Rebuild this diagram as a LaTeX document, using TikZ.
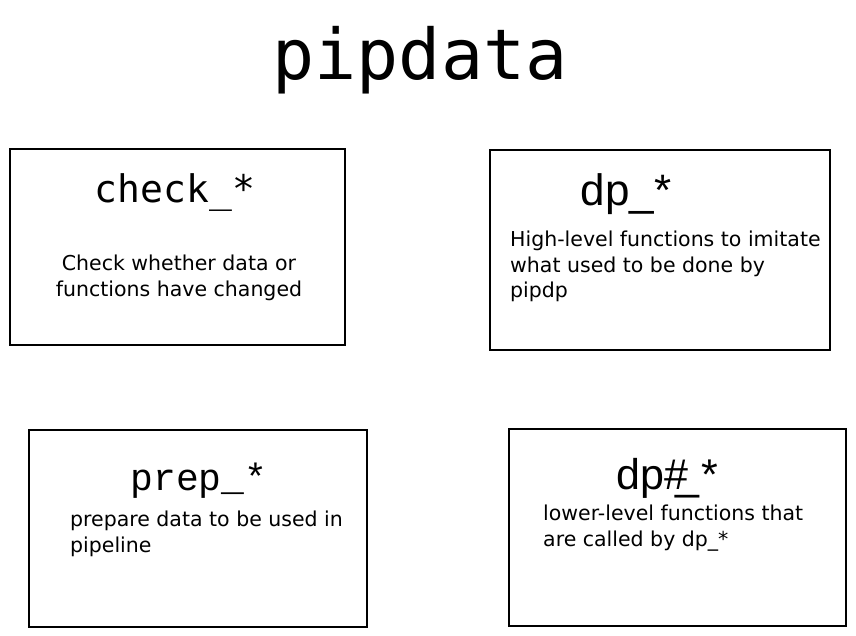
\documentclass[tikz,border=0pt]{standalone}
\usepackage{fontspec}
\setmainfont{Liberation Sans}
\newfontfamily\monoA{DejaVu Sans Mono}
\newfontfamily\monoB{Liberation Mono}
\newfontfamily\sansT{Liberation Sans}
\newfontfamily\hand{DejaVu Sans}
\begin{document}
\begin{tikzpicture}[x=1pt,y=-1pt,
  box/.style={draw=black,line width=1.1pt,inner sep=0pt},
  desc/.style={font=\hand\fontsize{20.5}{25.5}\selectfont,inner sep=0pt,align=left}]
\useasboundingbox (0,0) rectangle (856,636);
\node (title) at (420,60) {\monoA\fontsize{70}{70}\selectfont pipdata};
% boxes
\node[box,minimum width=335pt,minimum height=196pt] (b1) at (177.5,247) {};
\node[box,minimum width=340pt,minimum height=200pt] (b2) at (660,250) {};
\node[box,minimum width=338pt,minimum height=197pt] (b3) at (198,528.5) {};
\node[box,minimum width=337pt,minimum height=197pt] (b4) at (677.5,527.5) {};
% titles
\node (t1) at (175,193) {\monoA\fontsize{38}{38}\selectfont check\_*};
\node (t2) at (626,194) {\sansT\fontsize{44}{44}\selectfont dp\_*};
\node (t3) at (199,481) {\monoB\fontsize{38}{38}\selectfont prep\_*};
\node (t4) at (667,478) {\sansT\fontsize{43}{43}\selectfont dp\#\kern-0.3em\_\kern0.05em*};
% descriptions
\node[desc,align=center] (d1) at (179,278) {Check whether data or\\functions have changed};
\node[desc,anchor=north west] (d2) at (510,231) {High-level functions to imitate\\what used to be done by\\pipdp};
\node[desc,anchor=north west] (d3) at (70,511) {prepare data to be used in\\pipeline};
\node[desc,anchor=north west] (d4) at (543,505) {lower-level functions that\\are called by dp\_*};
\end{tikzpicture}
\end{document}
